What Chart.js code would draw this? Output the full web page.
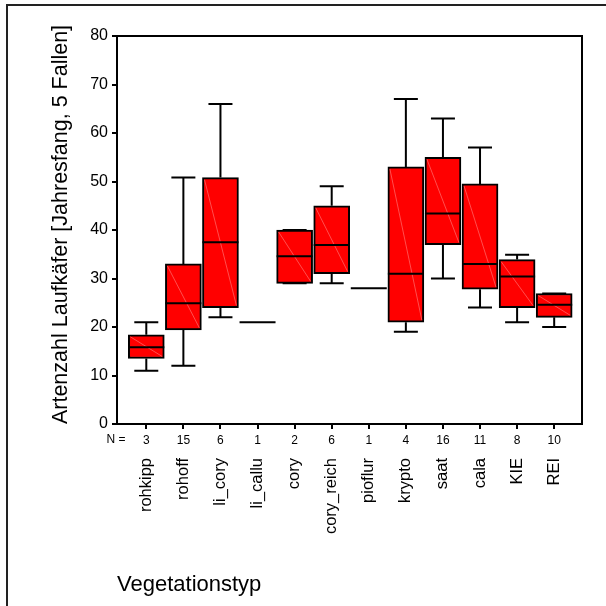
<!DOCTYPE html>
<html>
<head>
<meta charset="utf-8">
<script src="https://cdn.jsdelivr.net/npm/chart.js@4/dist/chart.umd.min.js"></script>
<style>
  body { margin: 0; background: #fff; }
  #frame { position: absolute; left: 6px; top: 4px; width: 800px; height: 800px; border: 2px solid #222; }
  #box { position: absolute; left: 0; top: 0; width: 606px; height: 606px; }
</style>
</head>
<body>
<div id="frame"></div>
<div id="box"><canvas id="myChart" width="606" height="606"></canvas></div>
<script>
// Artenzahl pro Vegetationstyp: min, Quartile, Median, max
const types   = ['rohkipp', 'rohoff', 'li_cory', 'li_callu', 'cory', 'cory_reich', 'pioflur', 'krypto', 'saat', 'cala', 'KIE', 'REI'];
const counts  = [3, 15, 6, 1, 2, 6, 1, 4, 16, 11, 8, 10];
const minVals = [11, 12, 22, 21, 29, 29, 28, 19, 30, 24, 21, 20];
const q1Vals  = [13.5, 19.4, 24, 21, 29, 31, 28, 21, 37, 27.8, 24, 22];
const medians = [15.8, 24.9, 37.5, 21, 34.6, 36.9, 28, 31, 43.4, 33, 30.4, 24.6];
const q3Vals  = [18.4, 33, 50.8, 21, 40, 45, 28, 53, 55, 49.5, 33.9, 26.9];
const maxVals = [21, 50.8, 66, 21, 40, 49, 28, 67, 63, 57, 34.9, 26.9];
const yTicks  = [0, 10, 20, 30, 40, 50, 60, 70, 80];

const yTitle = 'Artenzahl Laufkäfer [Jahresfang, 5 Fallen]';
const xTitle = 'Vegetationstyp';
const font = "'Liberation Sans', Arial, sans-serif";

Chart.defaults.color = '#000';
Chart.defaults.font.family = font;

// whiskers, median lines and the frame around the plot area
const boxplotExtras = {
    id: 'boxplotExtras',
    afterDatasetsDraw(chart) {
        const ctx = chart.ctx;
        const y = chart.scales.y;
        const meta = chart.getDatasetMeta(0);
        ctx.save();
        meta.data.forEach((bar, i) => {
            const {x, width} = bar.getProps(['x', 'width'], true);
            const left = x - width / 2, right = x + width / 2;
            const top = y.getPixelForValue(q3Vals[i]);
            const bottom = y.getPixelForValue(q1Vals[i]);
            const cap = width / 3;

            if (bottom - top > 4) {
                ctx.strokeStyle = 'rgba(255,140,140,0.8)';
                ctx.lineWidth = 0.7;
                ctx.beginPath();
                ctx.moveTo(left + 2, top + 2);
                ctx.lineTo(right - 2, bottom - 2);
                ctx.stroke();
            }

            ctx.strokeStyle = '#000';
            ctx.lineWidth = 2;
            const hi = y.getPixelForValue(maxVals[i]);
            const lo = y.getPixelForValue(minVals[i]);
            ctx.beginPath();
            ctx.moveTo(x, top); ctx.lineTo(x, hi);
            ctx.moveTo(x - cap, hi); ctx.lineTo(x + cap, hi);
            ctx.moveTo(x, bottom); ctx.lineTo(x, lo);
            ctx.moveTo(x - cap, lo); ctx.lineTo(x + cap, lo);
            const m = y.getPixelForValue(medians[i]);
            ctx.moveTo(left, m); ctx.lineTo(right, m);
            ctx.stroke();
        });
        ctx.restore();
    },
    afterDraw(chart) {
        const {ctx, chartArea} = chart;
        ctx.save();
        ctx.strokeStyle = '#000';
        ctx.lineWidth = 2;
        ctx.strokeRect(chartArea.left, chartArea.top, chartArea.right - chartArea.left, chartArea.bottom - chartArea.top);

        ctx.fillStyle = '#000';
        ctx.font = '12px ' + font;
        ctx.textAlign = 'center';
        ctx.textBaseline = 'middle';
        ctx.fillText('N =', chartArea.left - 1, 440);

        ctx.font = '21.5px ' + font;
        ctx.translate(61, 224.5);
        ctx.rotate(-Math.PI / 2);
        ctx.fillText(yTitle, 0, 0);
        ctx.restore();
    }
};

const indexTicks = (scale) => {
    scale.ticks = types.map((_, i) => ({value: i}));
};

var ctx = document.getElementById('myChart').getContext('2d');
var myChart = new Chart(ctx, {
    type: 'bar',
    data: {
        datasets: [{
            data: types.map((_, i) => ({x: i, y: [q1Vals[i], q3Vals[i]]})),
            backgroundColor: '#ff0000',
            borderColor: '#000',
            borderWidth: 2,
            borderSkipped: false,
            barThickness: 36
        }]
    },
    options: {
        responsive: false,
        animation: false,
        layout: { padding: { left: 0, top: 36, right: 24, bottom: 0 } },
        plugins: {
            legend: { display: false },
            tooltip: { enabled: false }
        },
        scales: {
            x: {
                type: 'linear',
                position: 'bottom',
                min: -0.79,
                max: 11.75,
                offset: false,
                afterBuildTicks: indexTicks,
                afterFit: (s) => { s.height = 26; },
                grid: { offset: false, drawOnChartArea: false, tickLength: 5, color: '#000', lineWidth: 2 },
                border: { color: '#000', width: 2 },
                ticks: {
                    autoSkip: false,
                    maxRotation: 0,
                    minRotation: 0,
                    padding: 4,
                    font: { size: 12 },
                    callback: (v) => counts[v]
                }
            },
            names: {
                type: 'linear',
                position: 'bottom',
                weight: 1,
                min: -0.79,
                max: 11.75,
                offset: false,
                afterBuildTicks: indexTicks,
                afterFit: (s) => { s.height = 156; },
                grid: { display: false, offset: false },
                border: { display: false },
                ticks: {
                    autoSkip: false,
                    maxRotation: 90,
                    minRotation: 90,
                    padding: 0,
                    font: { size: 16.5 },
                    callback: (v) => types[v]
                },
                title: {
                    display: true,
                    text: xTitle,
                    align: 'start',
                    font: { size: 22 },
                    padding: { top: 0, bottom: 8 }
                }
            },
            y: {
                min: 0,
                max: 80,
                afterBuildTicks: (s) => { s.ticks = yTicks.map(v => ({value: v})); },
                afterFit: (s) => { s.width = 117; },
                grid: { drawOnChartArea: false, tickLength: 5, color: '#000', lineWidth: 2 },
                border: { color: '#000', width: 2 },
                ticks: { padding: 4, font: { size: 16 } }
            }
        }
    },
    plugins: [boxplotExtras]
});
</script>
</body>
</html>
